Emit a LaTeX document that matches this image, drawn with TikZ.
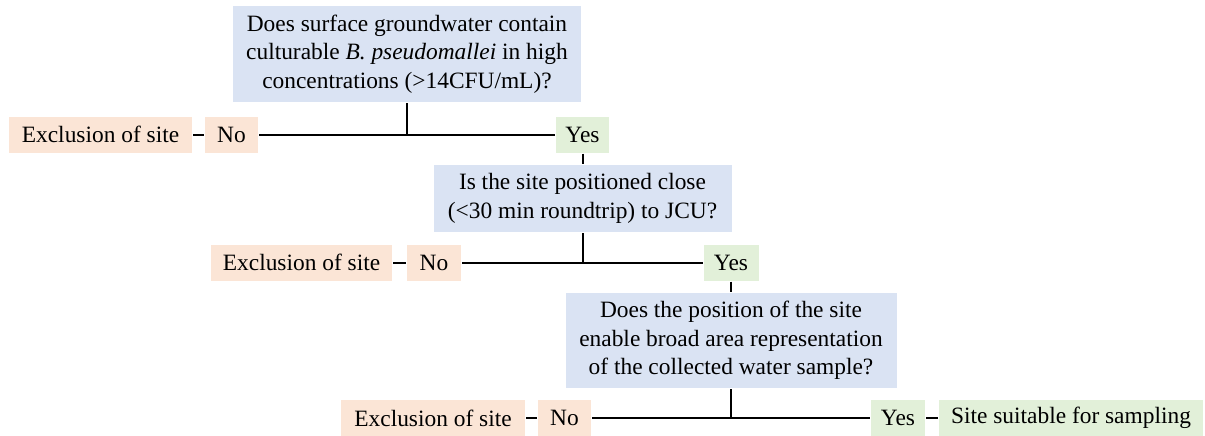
\documentclass[tikz,border=0pt]{standalone}
\usepackage{fontspec}
\setmainfont{Liberation Serif}
\usetikzlibrary{calc}
\definecolor{qblue}{HTML}{DAE3F3}
\definecolor{norange}{HTML}{FBE5D6}
\definecolor{ygreen}{HTML}{E2F0D9}

\begin{document}
\begin{tikzpicture}[x=1pt, y=-1pt, line width=2pt,
    every node/.style={font=\fontsize{23.4}{28.5}\selectfont, inner sep=0pt},
    question/.style={fill=qblue, align=center},
    nobox/.style={fill=norange, minimum height=36pt},
    yesbox/.style={fill=ygreen, minimum height=36pt}]
    \useasboundingbox (0,0) rectangle (1205,436);

    % First question
    \node[question, minimum width=348pt, minimum height=96pt] (q1) at (407,54) {Does surface groundwater contain\\ culturable \textit{B. pseudomallei} in high\\ concentrations (>14CFU/mL)?};
    \node[nobox, minimum width=183pt] (ex1) at (100.5,134.5) {Exclusion of site};
    \node[nobox, minimum width=53pt] (no1) at (231.5,134.5) {No};
    \node[yesbox, minimum width=53pt] (yes1) at (582.5,134.5) {Yes};

    % Second question
    \node[question, minimum width=298pt, minimum height=67pt] (q2) at (582.5,198.5) {Is the site positioned close\\ (<30 min roundtrip) to JCU?};
    \node[nobox, minimum width=181pt] (ex2) at (301.5,262.5) {Exclusion of site};
    \node[nobox, minimum width=54pt] (no2) at (434,262.5) {No};
    \node[yesbox, minimum width=55pt] (yes2) at (731,262.5) {Yes};

    % Third question
    \node[question, minimum width=331pt, minimum height=95pt] (q3) at (731,340.5) {Does the position of the site\\ enable broad area representation\\ of the collected water sample?};
    \node[nobox, minimum width=184pt] (ex3) at (433,418) {Exclusion of site};
    \node[nobox, minimum width=53pt] (no3) at (564.5,418) {No};
    \node[yesbox, minimum width=54pt] (yes3) at (898,418) {Yes};
    \node[yesbox, minimum width=264pt] (site) at (1071,418) {Site suitable for sampling};

    % Connectors
    \draw (ex1) -- (no1);
    \draw (no1) -- (yes1);
    \draw (q1.south) -- (q1.south |- no1.center);
    \draw (yes1) -- (q2);

    \draw (ex2) -- (no2);
    \draw (no2) -- (yes2);
    \draw (q2.south) -- (q2.south |- no2.center);
    \draw (yes2) -- (q3);

    \draw (ex3) -- (no3);
    \draw (no3) -- (yes3);
    \draw (q3.south) -- (q3.south |- no3.center);
    \draw (yes3) -- (site);
\end{tikzpicture}
\end{document}
